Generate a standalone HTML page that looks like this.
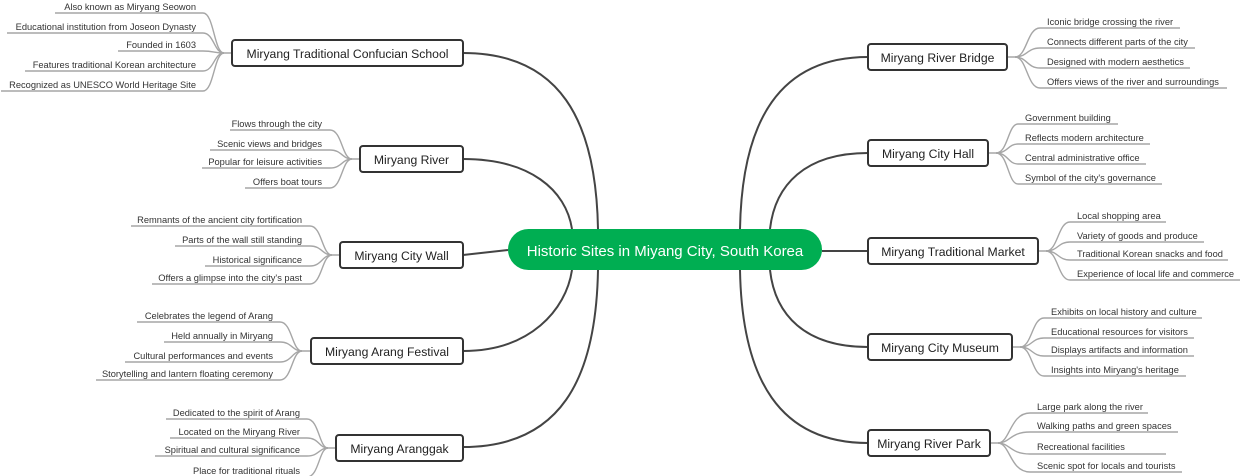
<!DOCTYPE html>
<html><head><meta charset="utf-8"><style>
html,body{margin:0;padding:0;background:#fff;}
svg{display:block;font-family:"Liberation Sans",Arial,sans-serif;}
.l{fill:none;stroke:#a6a6a6;stroke-width:1.4}
.m{fill:none;stroke:#444;stroke-width:2}
.n{fill:#fff;stroke:#333;stroke-width:2}
.t{font-size:9.3px;fill:#333}
.nt{font-size:12.2px;fill:#222}
</style></head><body>
<svg width="1240" height="476" viewBox="0 0 1240 476">
<path class="m" d="M463 53 C560 53 596 120 598 229"/>
<path class="m" d="M463 159 C530 159 566 190 572 229"/>
<path class="m" d="M463 255 L508 250"/>
<path class="m" d="M463 351 C530 351 566 310 572 270"/>
<path class="m" d="M463 447 C560 447 596 380 598 270"/>
<path class="m" d="M868 57 C780 57 742 120 740 229"/>
<path class="m" d="M868 153 C805 153 775 185 770 229"/>
<path class="m" d="M822 251 L868 251"/>
<path class="m" d="M868 347 C805 347 775 315 770 270"/>
<path class="m" d="M868 443 C780 443 742 380 740 270"/>

<rect x="508" y="229" width="314" height="41" rx="20.5" fill="#00ae52"/>
<text x="665" y="256" text-anchor="middle" font-size="15" fill="#fff">Historic Sites in Miyang City, South Korea</text>

<g>
<path class="l" d="M55 13 H203 C214 13 214 53 224 53 H232"/>
<path class="l" d="M7 33 H203 C214 33 214 53 224 53"/>
<path class="l" d="M118 51 H203 C214 51 214 53 224 53"/>
<path class="l" d="M25 71 H203 C214 71 214 53 224 53"/>
<path class="l" d="M1 91 H203 C214 91 214 53 224 53"/>
<text class="t" x="196" y="10" text-anchor="end">Also known as Miryang Seowon</text>
<text class="t" x="196" y="30" text-anchor="end">Educational institution from Joseon Dynasty</text>
<text class="t" x="196" y="48" text-anchor="end">Founded in 1603</text>
<text class="t" x="196" y="68" text-anchor="end">Features traditional Korean architecture</text>
<text class="t" x="196" y="88" text-anchor="end">Recognized as UNESCO World Heritage Site</text>
<rect class="n" x="232" y="40" width="231" height="26" rx="3"/>
<text class="nt" x="347.5" y="58" text-anchor="middle">Miryang Traditional Confucian School</text>
</g>
<g>
<path class="l" d="M230 130 H330 C342 130 342 159 352 159 H360"/>
<path class="l" d="M210 150 H330 C342 150 342 159 352 159"/>
<path class="l" d="M202 168 H330 C342 168 342 159 352 159"/>
<path class="l" d="M245 188 H330 C342 188 342 159 352 159"/>
<text class="t" x="322" y="127" text-anchor="end">Flows through the city</text>
<text class="t" x="322" y="147" text-anchor="end">Scenic views and bridges</text>
<text class="t" x="322" y="165" text-anchor="end">Popular for leisure activities</text>
<text class="t" x="322" y="185" text-anchor="end">Offers boat tours</text>
<rect class="n" x="360" y="146" width="103" height="26" rx="3"/>
<text class="nt" x="411.5" y="164" text-anchor="middle">Miryang River</text>
</g>
<g>
<path class="l" d="M131 226 H310 C322 226 322 255 332 255 H340"/>
<path class="l" d="M175 246 H310 C322 246 322 255 332 255"/>
<path class="l" d="M205 266 H310 C322 266 322 255 332 255"/>
<path class="l" d="M152 284 H310 C322 284 322 255 332 255"/>
<text class="t" x="302" y="223" text-anchor="end">Remnants of the ancient city fortification</text>
<text class="t" x="302" y="243" text-anchor="end">Parts of the wall still standing</text>
<text class="t" x="302" y="263" text-anchor="end">Historical significance</text>
<text class="t" x="302" y="281" text-anchor="end">Offers a glimpse into the city's past</text>
<rect class="n" x="340" y="242" width="123" height="26" rx="3"/>
<text class="nt" x="401.5" y="260" text-anchor="middle">Miryang City Wall</text>
</g>
<g>
<path class="l" d="M137 322 H280 C292 322 292 351 302 351 H311"/>
<path class="l" d="M164 342 H280 C292 342 292 351 302 351"/>
<path class="l" d="M125 362 H280 C292 362 292 351 302 351"/>
<path class="l" d="M96 380 H280 C292 380 292 351 302 351"/>
<text class="t" x="273" y="319" text-anchor="end">Celebrates the legend of Arang</text>
<text class="t" x="273" y="339" text-anchor="end">Held annually in Miryang</text>
<text class="t" x="273" y="359" text-anchor="end">Cultural performances and events</text>
<text class="t" x="273" y="377" text-anchor="end">Storytelling and lantern floating ceremony</text>
<rect class="n" x="311" y="338" width="152" height="26" rx="3"/>
<text class="nt" x="387" y="356" text-anchor="middle">Miryang Arang Festival</text>
</g>
<g>
<path class="l" d="M166 419 H307 C319 419 319 448 328 448 H336"/>
<path class="l" d="M170 438 H307 C319 438 319 448 328 448"/>
<path class="l" d="M155 456 H307 C319 456 319 448 328 448"/>
<path class="l" d="M190 477 H307 C319 477 319 448 328 448"/>
<text class="t" x="300" y="416" text-anchor="end">Dedicated to the spirit of Arang</text>
<text class="t" x="300" y="435" text-anchor="end">Located on the Miryang River</text>
<text class="t" x="300" y="453" text-anchor="end">Spiritual and cultural significance</text>
<text class="t" x="300" y="474" text-anchor="end">Place for traditional rituals</text>
<rect class="n" x="336" y="435" width="127" height="26" rx="3"/>
<text class="nt" x="399.5" y="453" text-anchor="middle">Miryang Aranggak</text>
</g>

<g>
<path class="l" d="M1007 57 H1015 C1027 57 1027 28 1040 28 H1180"/>
<path class="l" d="M1015 57 C1027 57 1027 48 1040 48 H1195"/>
<path class="l" d="M1015 57 C1027 57 1027 68 1040 68 H1190"/>
<path class="l" d="M1015 57 C1027 57 1027 88 1040 88 H1227"/>
<text class="t" x="1047" y="25">Iconic bridge crossing the river</text>
<text class="t" x="1047" y="45">Connects different parts of the city</text>
<text class="t" x="1047" y="65">Designed with modern aesthetics</text>
<text class="t" x="1047" y="85">Offers views of the river and surroundings</text>
<rect class="n" x="868" y="44" width="139" height="26" rx="3"/>
<text class="nt" x="937.5" y="62" text-anchor="middle">Miryang River Bridge</text>
</g>
<g>
<path class="l" d="M988 153 H996 C1008 153 1008 124 1018 124 H1118"/>
<path class="l" d="M996 153 C1008 153 1008 144 1018 144 H1150"/>
<path class="l" d="M996 153 C1008 153 1008 164 1018 164 H1146"/>
<path class="l" d="M996 153 C1008 153 1008 184 1018 184 H1162"/>
<text class="t" x="1025" y="121">Government building</text>
<text class="t" x="1025" y="141">Reflects modern architecture</text>
<text class="t" x="1025" y="161">Central administrative office</text>
<text class="t" x="1025" y="181">Symbol of the city's governance</text>
<rect class="n" x="868" y="140" width="120" height="26" rx="3"/>
<text class="nt" x="928" y="158" text-anchor="middle">Miryang City Hall</text>
</g>
<g>
<path class="l" d="M1038 251 H1046 C1058 251 1058 222 1070 222 H1166"/>
<path class="l" d="M1046 251 C1058 251 1058 242 1070 242 H1204"/>
<path class="l" d="M1046 251 C1058 251 1058 260 1070 260 H1228"/>
<path class="l" d="M1046 251 C1058 251 1058 280 1070 280 H1240"/>
<text class="t" x="1077" y="219">Local shopping area</text>
<text class="t" x="1077" y="239">Variety of goods and produce</text>
<text class="t" x="1077" y="257">Traditional Korean snacks and food</text>
<text class="t" x="1077" y="277">Experience of local life and commerce</text>
<rect class="n" x="868" y="238" width="170" height="26" rx="3"/>
<text class="nt" x="953" y="256" text-anchor="middle">Miryang Traditional Market</text>
</g>
<g>
<path class="l" d="M1012 347 H1020 C1032 347 1032 318 1044 318 H1202"/>
<path class="l" d="M1020 347 C1032 347 1032 338 1044 338 H1194"/>
<path class="l" d="M1020 347 C1032 347 1032 356 1044 356 H1194"/>
<path class="l" d="M1020 347 C1032 347 1032 376 1044 376 H1186"/>
<text class="t" x="1051" y="315">Exhibits on local history and culture</text>
<text class="t" x="1051" y="335">Educational resources for visitors</text>
<text class="t" x="1051" y="353">Displays artifacts and information</text>
<text class="t" x="1051" y="373">Insights into Miryang's heritage</text>
<rect class="n" x="868" y="334" width="144" height="26" rx="3"/>
<text class="nt" x="940" y="352" text-anchor="middle">Miryang City Museum</text>
</g>
<g>
<path class="l" d="M990 443 H998 C1010 443 1010 413 1030 413 H1148"/>
<path class="l" d="M998 443 C1010 443 1010 432 1030 432 H1178"/>
<path class="l" d="M998 443 C1010 443 1010 454 1030 454 H1166"/>
<path class="l" d="M998 443 C1010 443 1010 472 1030 472 H1182"/>
<text class="t" x="1037" y="410">Large park along the river</text>
<text class="t" x="1037" y="429">Walking paths and green spaces</text>
<text class="t" x="1037" y="450">Recreational facilities</text>
<text class="t" x="1037" y="469">Scenic spot for locals and tourists</text>
<rect class="n" x="868" y="430" width="122" height="26" rx="3"/>
<text class="nt" x="929" y="448" text-anchor="middle">Miryang River Park</text>
</g>
</svg>
</body></html>
